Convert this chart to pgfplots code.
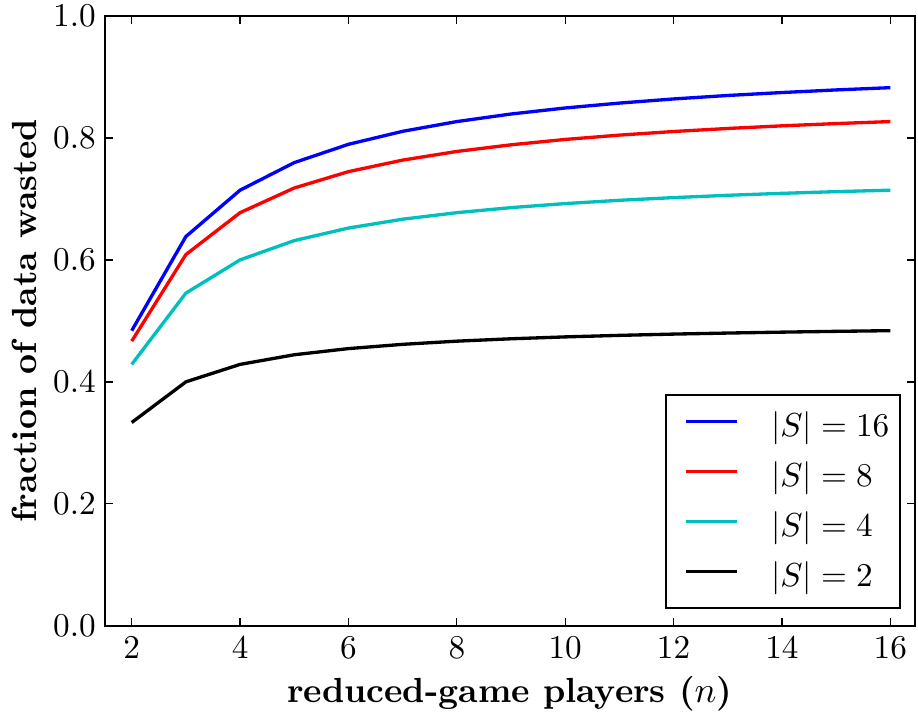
\documentclass[border=0pt]{standalone}
\usepackage{pgfplots}
\pgfplotsset{compat=1.18}
\begin{document}
\begin{tikzpicture}
\begin{axis}[
  name=ax,
  scale only axis,
  width=243.9pt, height=183.6pt,
  xmin=1.5, xmax=16.45, ymin=0, ymax=1,
  xtick={2,4,...,16}, ytick={0,0.2,...,1.0},
  yticklabel style={/pgf/number format/fixed,/pgf/number format/fixed zerofill,/pgf/number format/precision=1,
    inner sep=0pt, xshift=-2.5pt},
  tick align=inside, major tick length=2.4pt,
  tick style={black, line width=0.4pt},
  axis line style={line width=0.55pt},
  ticklabel style={font=\fontsize{10}{12}\selectfont},
  xlabel={\textbf{reduced-game players (}$n$\textbf{)}},
  ylabel={\textbf{fraction of data wasted}},
  every axis x label/.style={at={(axis description cs:0.5,0)}, anchor=base, inner sep=0pt, yshift=-23.1pt},
  every axis y label/.style={at={(axis description cs:0,0.5)}, xshift=-20.4pt, rotate=90, anchor=base, inner sep=0pt},
  label style={font=\fontsize{10.5}{12}\selectfont},
  legend style={at={(0.983,0.028)}, anchor=south east, draw=black, line width=0.55pt,
    font=\fontsize{10}{12}\selectfont, row sep=2pt, inner xsep=1.2pt, inner ysep=3pt},
  legend cell align=left,
  legend image code/.code={\draw[#1, line width=1pt] (0pt,1.5pt) -- (15.3pt,1.5pt); \path (-4.5pt,0pt) (23pt,0pt);},
  every axis plot/.append style={line width=1pt},
]
\addplot[blue] coordinates {(2,0.4839)(3,0.6383)(4,0.7143)(5,0.7595)(6,0.7895)(7,0.8108)(8,0.8268)(9,0.8392)(10,0.8491)(11,0.8571)(12,0.8639)(13,0.8696)(14,0.8744)(15,0.8787)(16,0.8824)};
\addlegendentry{$|S|=16$}
\addplot[red] coordinates {(2,0.4667)(3,0.6087)(4,0.6774)(5,0.7179)(6,0.7447)(7,0.7636)(8,0.7778)(9,0.7887)(10,0.7975)(11,0.8046)(12,0.8105)(13,0.8155)(14,0.8198)(15,0.8235)(16,0.8268)};
\addlegendentry{$|S|=8$}
\addplot[color={rgb,1:red,0;green,0.75;blue,0.75}] coordinates {(2,0.4286)(3,0.5455)(4,0.6)(5,0.6316)(6,0.6522)(7,0.6667)(8,0.6774)(9,0.6857)(10,0.6923)(11,0.6977)(12,0.7021)(13,0.7059)(14,0.7091)(15,0.7119)(16,0.7143)};
\addlegendentry{$|S|=4$}
\addplot[black] coordinates {(2,0.3333)(3,0.4)(4,0.4286)(5,0.4444)(6,0.4545)(7,0.4615)(8,0.4667)(9,0.4706)(10,0.4737)(11,0.4762)(12,0.4783)(13,0.48)(14,0.4815)(15,0.4828)(16,0.4839)};
\addlegendentry{$|S|=2$}
\end{axis}
\path ([xshift=-31.5pt,yshift=-26.7pt]ax.south west) ([yshift=4.8pt]ax.north east);
\end{tikzpicture}
\end{document}
